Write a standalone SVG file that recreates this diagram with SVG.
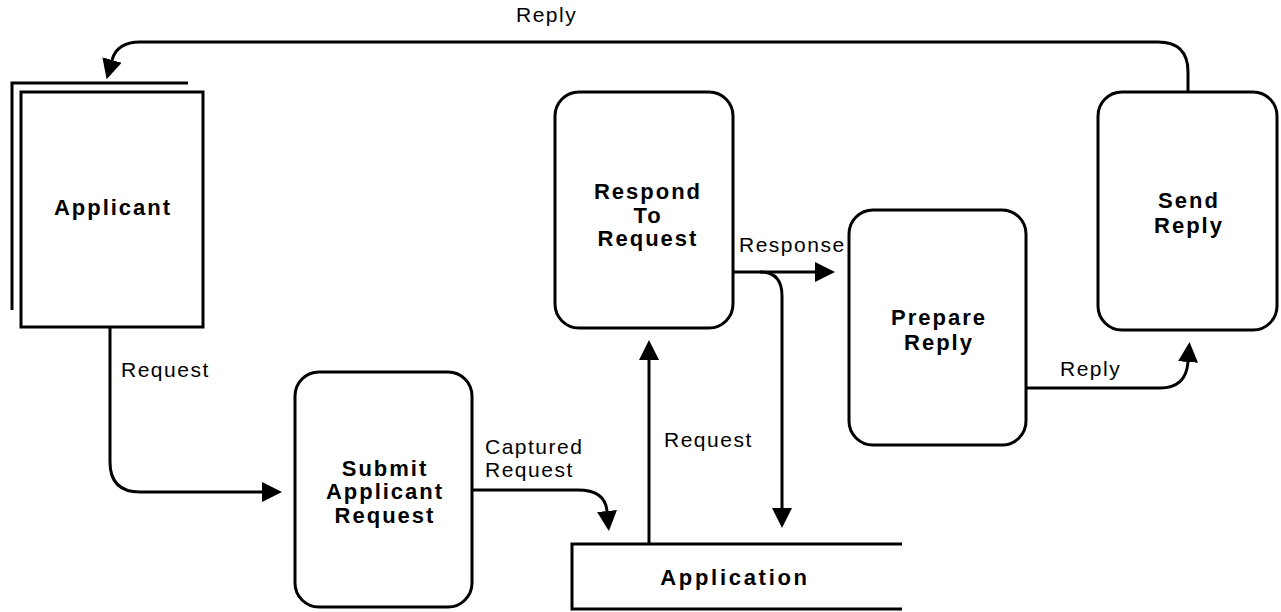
<svg xmlns="http://www.w3.org/2000/svg" width="1281" height="612" viewBox="0 0 1281 612">
  <style>
    .shape { fill: #fff; stroke: #000; stroke-width: 3; }
    .line { fill: none; stroke: #000; stroke-width: 3; }
    .flow { fill: none; stroke: #000; stroke-width: 3; marker-end: url(#head); }
    .node-text { font-family: "Liberation Sans", Arial, sans-serif; font-weight: bold; font-size: 22px; letter-spacing: 2px; text-anchor: middle; fill: #000; }
    .label { font-family: "Liberation Sans", Arial, sans-serif; font-size: 21px; letter-spacing: 1.5px; fill: #000; }
  </style>
  <defs>
    <marker id="head" markerUnits="userSpaceOnUse" markerWidth="22" markerHeight="24" viewBox="0 -12 22 24" refX="0" refY="0" orient="auto">
      <path d="M0,-10 L20,0 L0,10 z" fill="#000"/>
    </marker>
  </defs>

  <rect width="1281" height="612" fill="#fff"/>

  <!-- external entity -->
  <g id="applicant">
    <path class="line" d="M188,83 H12 V310"/>
    <rect class="shape" x="21" y="92" width="182" height="235"/>
    <text class="node-text" x="113" y="215">Applicant</text>
  </g>

  <!-- processes -->
  <g id="submit-applicant-request">
    <rect class="shape" x="295" y="372" width="177" height="235" rx="24"/>
    <text class="node-text" x="385" y="476">Submit</text>
    <text class="node-text" x="385" y="499">Applicant</text>
    <text class="node-text" x="385" y="523">Request</text>
  </g>

  <g id="respond-to-request">
    <rect class="shape" x="555" y="92" width="178" height="236" rx="24"/>
    <text class="node-text" x="648" y="199">Respond</text>
    <text class="node-text" x="648" y="223">To</text>
    <text class="node-text" x="648" y="246">Request</text>
  </g>

  <g id="prepare-reply">
    <rect class="shape" x="849" y="210" width="177" height="235" rx="24"/>
    <text class="node-text" x="939" y="325">Prepare</text>
    <text class="node-text" x="939" y="350">Reply</text>
  </g>

  <g id="send-reply">
    <rect class="shape" x="1098" y="92" width="179" height="238" rx="24"/>
    <text class="node-text" x="1189" y="208">Send</text>
    <text class="node-text" x="1189" y="233">Reply</text>
  </g>

  <!-- data store -->
  <g id="application">
    <path class="line" d="M902,544 H572 V609 H902"/>
    <text class="node-text" x="735" y="585" style="letter-spacing:2.7px">Application</text>
  </g>

  <!-- data flows -->
  <g id="connectors">
    <path class="flow" d="M1188,91 V72 Q1188,42 1158,42 H140 Q117,42 112,60"/>
    <path class="flow" d="M110,327 V462 Q110,492 140,492 H262"/>
    <path class="flow" d="M473,490 H578 Q605,490 607,511"/>
    <path class="flow" d="M649,544 V360"/>
    <path class="flow" d="M733,272 H815"/>
    <path class="flow" d="M760,272 Q782,272 782,296 V508"/>
    <path class="flow" d="M1026,388 H1160 Q1186,388 1188,362"/>
  </g>

  <g id="flow-labels">
    <text class="label" x="516" y="22">Reply</text>
    <text class="label" x="121" y="377">Request</text>
    <text class="label" x="485" y="454">Captured</text>
    <text class="label" x="485" y="477">Request</text>
    <text class="label" x="664" y="447">Request</text>
    <text class="label" x="739" y="252">Response</text>
    <text class="label" x="1060" y="376">Reply</text>
  </g>
</svg>
